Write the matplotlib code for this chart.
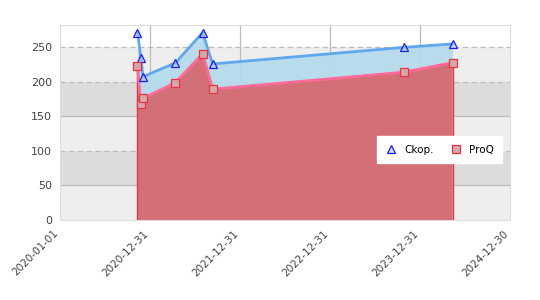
import numpy as np
import pandas as pd
import matplotlib
matplotlib.use("Agg")
import matplotlib.pyplot as plt
import matplotlib.dates as mdates

dates = pd.to_datetime(["2020-11-09", "2020-11-23", "2020-12-01", "2021-04-12",
                        "2021-07-31", "2021-09-10", "2023-10-24", "2024-05-10"])
ckop = [271.5, 235, 207.5, 227.5, 271.5, 226, 250, 255]
proq = [223, 167.5, 176, 199, 241, 189.5, 214, 228]

tick_dates = pd.to_datetime(["2020-01-01", "2020-12-31", "2021-12-31",
                             "2022-12-31", "2023-12-31", "2024-12-30"])
y_ticks = [0, 50, 100, 150, 200, 250]

fig = plt.figure(figsize=(5.4, 3.0), dpi=100)
ax = fig.add_axes([0.1117, 0.2667, 0.8333, 0.649])

x0, x1 = tick_dates[0], tick_dates[-1]
ax.set_xlim(x0, x1)
ax.set_ylim(0, 282)

# alternating horizontal bands
band_cols = ["#eeeeee", "#dcdcdc"]
for i in range(len(y_ticks) - 1):
    ax.axhspan(y_ticks[i], y_ticks[i + 1], color=band_cols[i % 2], lw=0, zorder=0)

# grid lines
for xd in tick_dates[1:-1]:
    ax.axvline(xd, color="#bbbbbb", lw=0.9, zorder=1)
for yv in y_ticks[1:]:
    ls = (0, (4, 3)) if yv in (100, 200, 250) else "-"
    ax.axhline(yv, color="#bbbbbb", lw=0.9, ls=ls, zorder=1)

# areas
ax.fill_between(dates, 0, ckop, color="#b4daec", alpha=0.9, lw=0, zorder=2)
ax.fill_between(dates, 0, proq, facecolor=(218/255, 84/255, 90/255), alpha=0.8,
                edgecolor="none", zorder=3)
ax.vlines([dates[0], dates[-1]], 0, [proq[0], proq[-1]], color="#e8333f", lw=1.0, zorder=4)

ax.plot(dates, ckop, color="#5fa8ee", lw=2, zorder=5)
ax.plot(dates, proq, color="#ff6a9a", lw=2, zorder=5)

ax.plot(dates, ckop, ls="none", marker="^", ms=6, mfc=(0.7, 0.8, 1.0, 0.6),
        mec="#1a1aff", mew=0.9, zorder=6, label="Ckop.")
ax.plot(dates, proq, ls="none", marker="s", ms=5.5, mfc="#d4a8aa",
        mec="#e8333f", mew=0.9, zorder=6, label="ProQ")

ax.set_xticks(tick_dates)
ax.set_xticklabels([d.strftime("%Y-%m-%d") for d in tick_dates], rotation=45,
                   ha="right", fontsize=7.5, color="#444444")
ax.set_yticks(y_ticks)
ax.set_yticklabels([str(v) for v in y_ticks], fontsize=8, color="#444444")
ax.tick_params(length=0, pad=6)

for s in ax.spines.values():
    s.set_color("#dddddd")

leg = ax.legend(loc="lower left", bbox_to_anchor=(0.704, 0.293), ncol=2,
                frameon=True, fancybox=False, framealpha=1, edgecolor="white",
                fontsize=7.5, handlelength=1.0, handletextpad=0.8,
                columnspacing=1.6, borderpad=0.8, borderaxespad=0)

fig.savefig("out.png", dpi=100)
